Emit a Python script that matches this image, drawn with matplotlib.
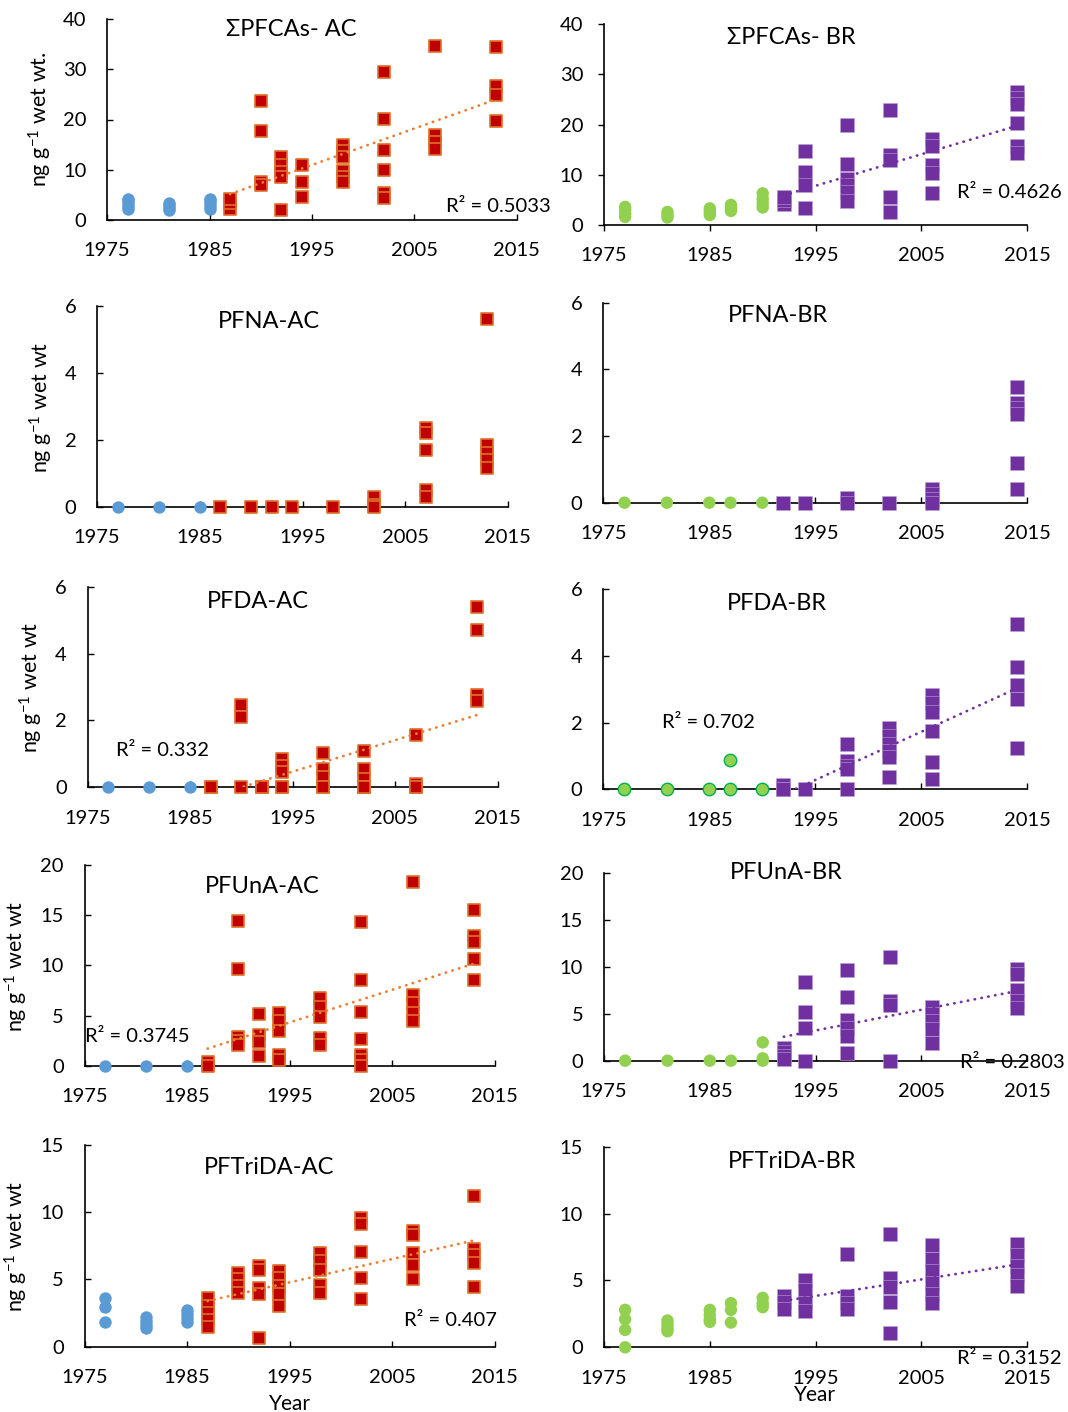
import matplotlib
matplotlib.use("Agg")
import matplotlib.pyplot as plt
import numpy as np

plt.rcParams['font.family'] = ['Lato', 'DejaVu Sans']
plt.rcParams['mathtext.fontset'] = 'custom'
plt.rcParams['mathtext.rm'] = 'Lato'
plt.rcParams['mathtext.default'] = 'rm'

# sampling years: AC = blue (early) / red (late), BR = green (early) / purple (late)
yrs_ac_early = [1977, 1981, 1985]
yrs_ac_late = [1987, 1990, 1992, 1994, 1998, 2002, 2007, 2013]
yrs_br_early = [1977, 1981, 1985, 1987, 1990]
yrs_br_late = [1992, 1994, 1998, 2002, 2006, 2014]

# sum PFCAs (ng/g wet wt)
pfcas_ac_early = [[2.2, 2.8, 3.4, 3.9, 4.2], [1.9, 2.4, 2.9, 3.4], [2.1, 2.7, 3.3, 3.9, 4.1]]
pfcas_ac_late = [[2.1, 3.3, 4.1], [23.6, 17.8, 7.6, 6.9], [12.5, 11.0, 9.5, 8.6, 2.0],
                 [11.0, 7.6, 4.5], [15.0, 13.8, 12.5, 9.8, 8.5, 7.5],
                 [29.5, 20.1, 13.9, 10.0, 5.3, 4.3], [34.6, 16.9, 15.5, 14.2],
                 [34.4, 26.6, 24.8, 19.8]]
pfcas_br_early = [[1.6, 2.3, 3.0, 3.6], [1.5, 2.0, 2.6], [2.0, 2.6, 3.3], [2.8, 3.4, 4.0],
                  [3.5, 4.3, 5.2, 6.3]]
pfcas_br_late = [[4.2, 5.0, 5.6], [14.7, 10.6, 8.0, 3.3], [20.0, 12.1, 9.2, 8.0, 6.5, 4.8],
                 [22.9, 13.9, 12.9, 5.6, 2.5], [17.2, 15.7, 11.9, 10.4, 6.3],
                 [26.4, 25.2, 24.1, 20.2, 15.8, 14.3]]

# PFNA
pfna_ac_early = [[0.0], [0.0], [0.0]]
pfna_ac_late = [[0.0], [0.0], [0.0], [0.0], [0.0], [0.3, 0.05, 0.0],
                [2.35, 2.2, 1.7, 0.5, 0.3], [5.6, 1.85, 1.6, 1.4, 1.15]]
pfna_br_early = [[0.0], [0.0], [0.0], [0.0], [0.0]]
pfna_br_late = [[0.0], [0.0], [0.15, 0.0], [0.0], [0.4, 0.25, 0.1, 0.0],
                [3.48, 3.0, 2.85, 2.65, 1.2, 0.4]]

# PFDA (several samples sit on zero)
pfda_ac_early = [[0.0], [0.0], [0.0]]
pfda_ac_late = [[0.0, 0.0], [2.45, 2.1, 0.0], [0.0, 0.0, 0.0], [0.85, 0.65, 0.47, 0.0, 0.0],
                [1.04, 0.55, 0.3, 0.0, 0.0], [1.1, 0.55, 0.25, 0.0, 0.0, 0.0],
                [1.55, 0.1, 0.0, 0.0], [5.4, 4.7, 2.76, 2.58]]
pfda_br_early = [[0.0], [0.0], [0.0], [0.88, 0.0], [0.0]]
pfda_br_late = [[0.12, 0.02, 0.0], [0.0], [1.35, 0.85, 0.7, 0.6, 0.0],
                [1.83, 1.6, 1.35, 1.15, 0.98, 0.38], [2.83, 2.6, 2.33, 1.76, 0.83, 0.32],
                [4.95, 3.68, 3.13, 2.7, 1.25]]

# PFUnA
pfuna_ac_early = [[0.0], [0.0], [0.0]]
pfuna_ac_late = [[0.4, 0.0], [14.4, 9.6, 2.9, 2.5, 2.1], [5.2, 3.1, 2.4, 1.0],
                 [5.3, 4.5, 3.5, 1.1, 0.6], [6.7, 5.8, 4.9, 2.8, 2.1],
                 [14.3, 8.5, 5.4, 2.7, 1.1, 0.6, 0.0], [18.3, 7.0, 6.2, 5.3, 4.5],
                 [15.5, 12.9, 12.3, 10.6, 8.5]]
pfuna_br_early = [[0.0], [0.0], [0.0], [0.0], [1.95, 0.25, 0.0]]
pfuna_br_late = [[1.3, 0.9, 0.5, 0.2], [8.4, 5.2, 3.5, 0.0], [9.65, 6.8, 4.3, 3.5, 2.6, 0.8],
                 [11.05, 6.4, 5.9, 0.0], [5.7, 5.0, 4.2, 3.4, 1.9], [9.8, 9.2, 7.5, 6.4, 5.6]]

# PFTriDA
pftrida_ac_early = [[3.64, 2.93, 1.81], [2.2, 1.9, 1.6, 1.4], [2.7, 2.4, 2.1, 1.8]]
pftrida_ac_late = [[3.6, 3.0, 2.5, 2.0, 1.5], [5.5, 5.0, 4.5, 4.0], [6.0, 5.7, 4.4, 3.9, 0.62],
                   [5.6, 5.1, 4.5, 3.9, 3.0], [7.0, 6.4, 5.7, 4.6, 4.0],
                   [9.6, 9.1, 7.07, 5.08, 3.55], [8.6, 8.3, 7.0, 6.1, 5.03],
                   [11.2, 7.3, 6.8, 6.2, 4.46]]
pftrida_br_early = [[2.8, 2.1, 1.3, 0.0], [2.0, 1.7, 1.4, 1.2], [2.8, 2.4, 2.1, 1.9],
                    [3.3, 2.8, 1.85], [3.7, 3.3, 3.0]]
pftrida_br_late = [[3.8, 3.4, 2.9], [5.0, 4.3, 3.3, 2.7], [6.95, 3.8, 3.3, 2.9],
                   [8.5, 5.2, 4.5, 3.4, 1.1], [7.65, 6.6, 5.7, 4.8, 4.0, 3.3],
                   [7.7, 6.9, 6.1, 5.4, 4.6]]

titles = ["ΣPFCAs- AC", "ΣPFCAs- BR", "PFNA-AC", "PFNA-BR", "PFDA-AC", "PFDA-BR",
          "PFUnA-AC", "PFUnA-BR", "PFTriDA-AC", "PFTriDA-BR"]
r2_labels = ["0.5033", "0.4626", None, None, "0.332", "0.702",
             "0.3745", "0.2803", "0.407", "0.3152"]
ymaxes = [40, 40, 6, 6, 6, 6, 20, 20, 15, 15]
ysteps = [10, 10, 2, 2, 2, 2, 5, 5, 5, 5]

W, H = 1068, 1412
fig = plt.figure(figsize=(W / 100, H / 100), dpi=100)

def fx(x):
    return x / W

def fy(y):
    return 1 - y / H

# plot boxes in pixels: left, right, top, bottom
boxes = [(107.1, 516.8, 19, 220), (604.0, 1027.2, 24, 225),
         (97.1, 507.9, 305.7, 506.7), (603.3, 1027.2, 302.7, 502.7),
         (87.5, 497.5, 586.7, 787.3), (603.3, 1027.2, 589.3, 789.3),
         (84.6, 494.6, 865, 1065.7), (604.0, 1027.2, 872.7, 1060.7),
         (84.6, 494.6, 1145, 1346.7), (604.0, 1027.2, 1146.7, 1347.3)]
title_pos = [(291, 30), (791, 38), (269, 322), (778, 315), (258, 602), (777, 603),
             (262, 887), (786, 873), (269, 1167), (792, 1161)]
r2_pos = [(446, 206), (957, 193), None, None, (116, 751), (662, 722),
          (85, 1036), (960, 1063), (404, 1321), (957, 1359)]
ylab_pos = {0: (53.6, 119), 2: (55.4, 407), 4: (44.6, 687), 6: (30.4, 966), 8: (30.4, 1246)}

c_blue, c_red, c_red_edge = '#5B9BD5', '#C00000', '#E0702A'
c_green, c_purple, c_orange = '#92D050', '#7030A0', '#ED7D31'

series = [
    (pfcas_ac_early, pfcas_ac_late), (pfcas_br_early, pfcas_br_late),
    (pfna_ac_early, pfna_ac_late), (pfna_br_early, pfna_br_late),
    (pfda_ac_early, pfda_ac_late), (pfda_br_early, pfda_br_late),
    (pfuna_ac_early, pfuna_ac_late), (pfuna_br_early, pfuna_br_late),
    (pftrida_ac_early, pftrida_ac_late), (pftrida_br_early, pftrida_br_late),
]


def flat(years, vals):
    xs = np.repeat(years, [len(v) for v in vals])
    return xs, np.concatenate(vals)


for i, (early, late) in enumerate(series):
    left, right, top, bottom = boxes[i]
    ax = fig.add_axes([fx(left), fy(bottom), (right - left) / W, (bottom - top) / H])
    is_ac = i % 2 == 0
    if is_ac:
        ex, ey = flat(yrs_ac_early, early)
        lx, ly = flat(yrs_ac_late, late)
        ax.scatter(ex, ey, s=80, marker='o', color=c_blue, lw=0, clip_on=False, zorder=3)
        ax.scatter(lx, ly, s=66, marker='s', facecolor=c_red, edgecolor=c_red_edge,
                   lw=1.2, clip_on=False, zorder=3)
        line_color = c_orange
    else:
        ex, ey = flat(yrs_br_early, early)
        lx, ly = flat(yrs_br_late, late)
        edge = '#00B050' if i == 5 else 'none'
        ax.scatter(ex, ey, s=80, marker='o', facecolor=c_green, edgecolor=edge,
                   lw=1.0, clip_on=False, zorder=3)
        ax.scatter(lx, ly, s=92, marker='s', facecolor=c_purple, edgecolor='#B9A3D3',
                   lw=0.4, clip_on=False, zorder=3)
        line_color = c_purple

    # linear trend over the later series
    if r2_labels[i] is not None:
        coef = np.polyfit(lx, ly, 1)
        tx = np.array([lx.min(), lx.max()])
        ax.plot(tx, np.polyval(coef, tx), color=line_color, lw=2.0,
                ls=(0, (0.1, 2.4)), dash_capstyle='round', zorder=4)
        rx, ry = r2_pos[i]
        fig.text(fx(rx), fy(ry), "R² = " + r2_labels[i], ha='left', va='center',
                 fontsize=14.5, zorder=5)

    ax.set_xlim(1975, 2015)
    ax.set_ylim(0, ymaxes[i])
    ax.set_xticks(range(1975, 2016, 10))
    ax.set_yticks(np.arange(0, ymaxes[i] + 1, ysteps[i]))
    for s in ['top', 'right']:
        ax.spines[s].set_visible(False)
    for s in ['left', 'bottom']:
        ax.spines[s].set_linewidth(1.2)
        ax.spines[s].set_color('black')
    tdir = 'out' if i == 1 else 'in'
    ax.tick_params(axis='both', direction=tdir, length=4.5, width=1.0,
                   labelsize=14.5, colors='black')
    ax.tick_params(axis='y', pad=15 if tdir == 'in' else 10.5)
    ax.tick_params(axis='x', pad=16 if tdir == 'in' else 11.5)
    ax.patch.set_alpha(0)

    tx_, ty_ = title_pos[i]
    fig.text(fx(tx_), fy(ty_), titles[i], ha='center', va='center', fontsize=17)

    if i in ylab_pos:
        lx_, ly_ = ylab_pos[i]
        txt = 'ng g$^{-1}$ wet wt.' if i == 0 else 'ng g$^{-1}$ wet wt'
        fig.text(fx(lx_), fy(ly_), txt, rotation=90, ha='right', va='center', fontsize=15.5)

fig.text(fx(290), fy(1404), "Year", ha='center', va='center', fontsize=15)
fig.text(fx(815), fy(1395), "Year", ha='center', va='center', fontsize=15)

fig.savefig("out.png", dpi=100, facecolor='white')
